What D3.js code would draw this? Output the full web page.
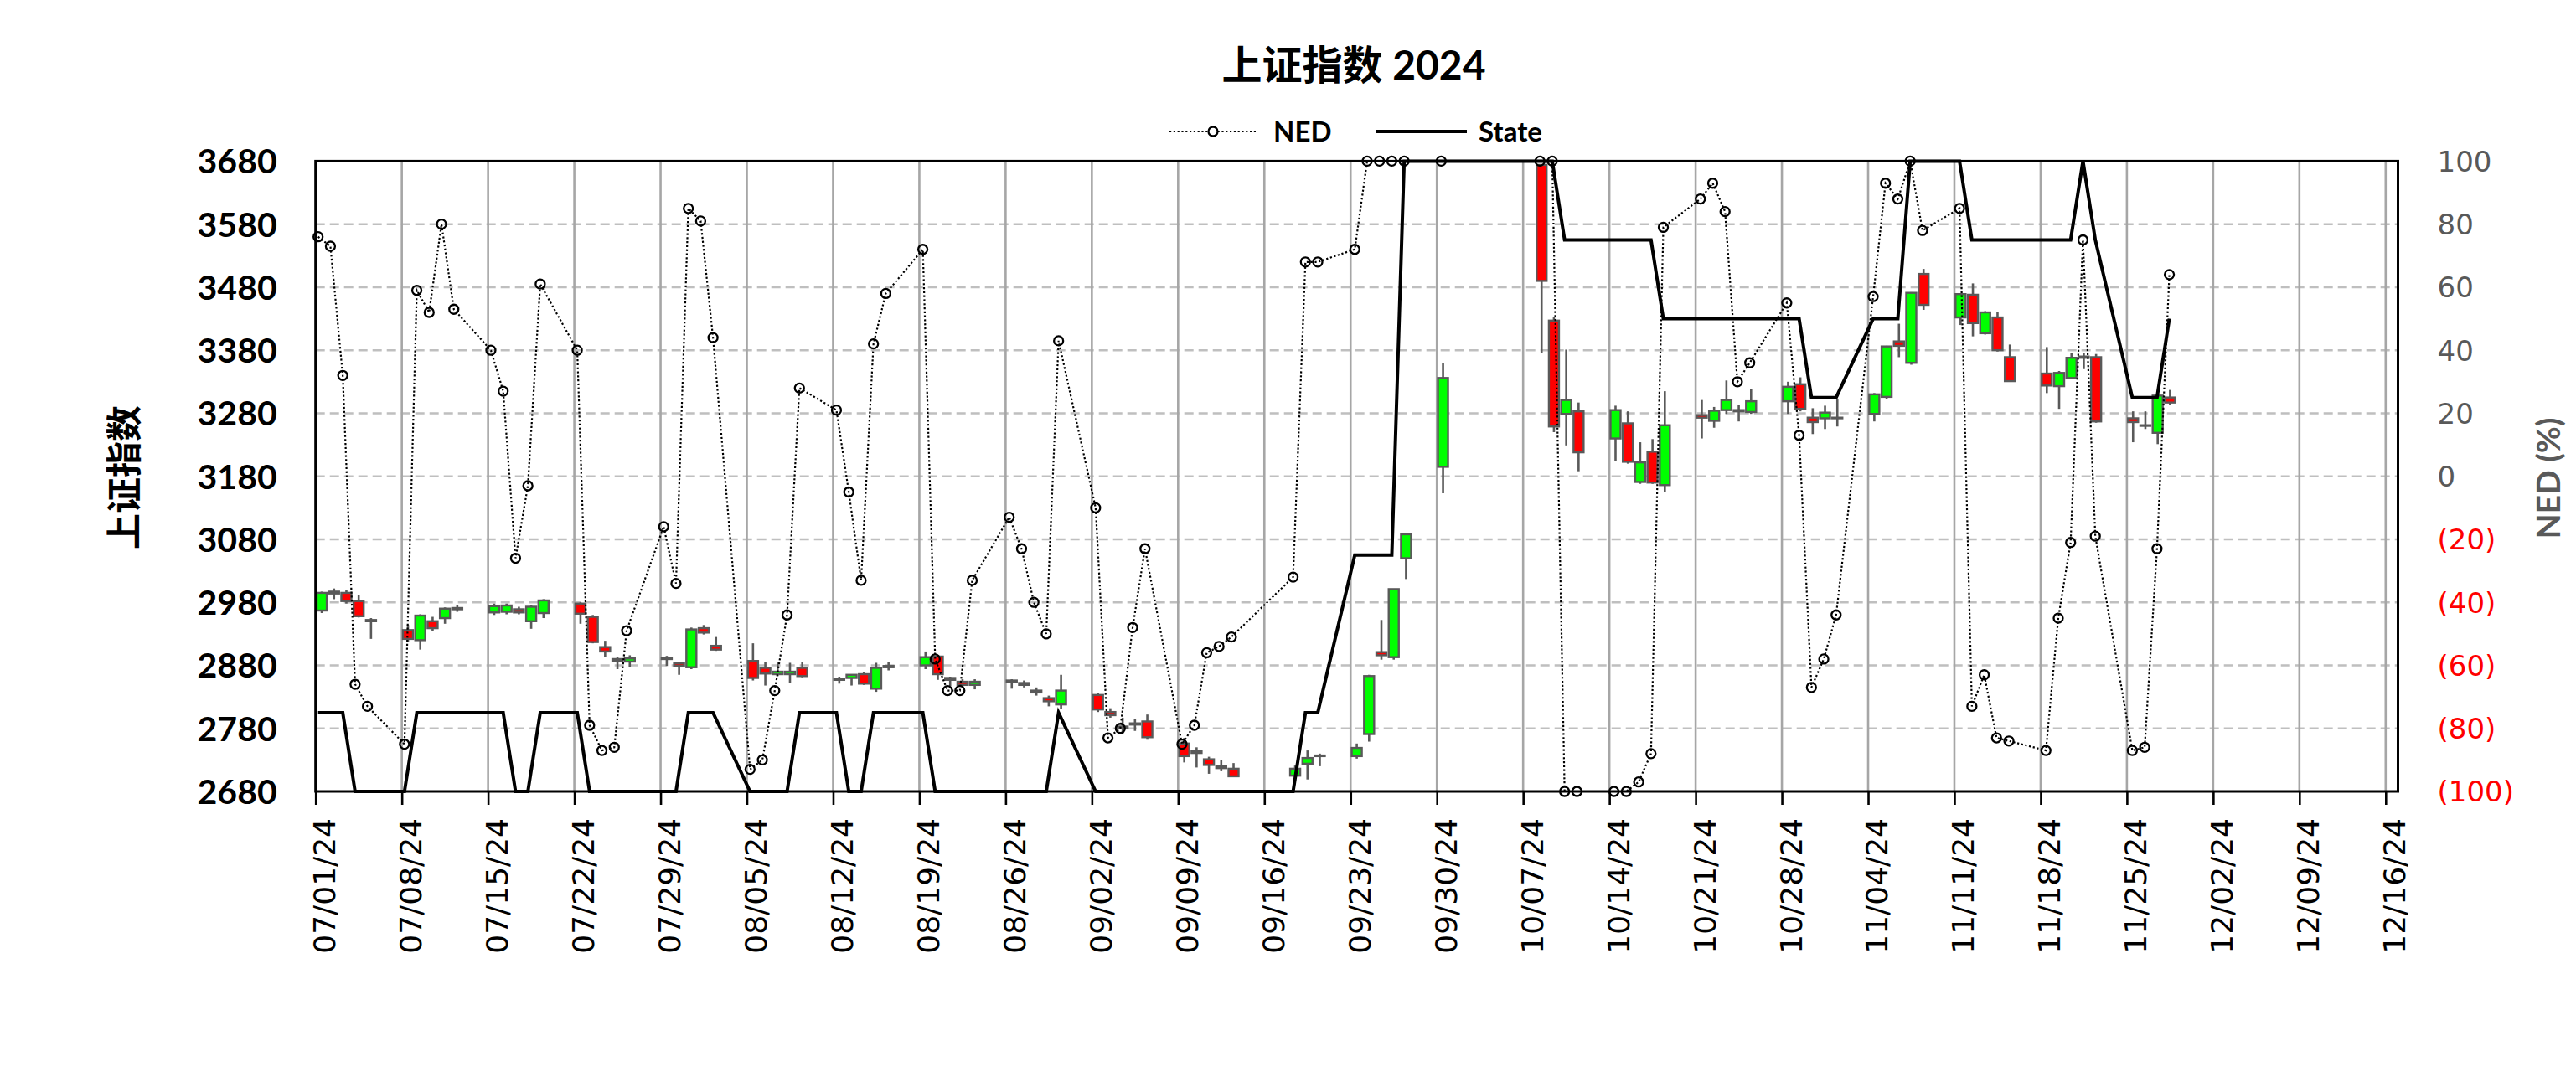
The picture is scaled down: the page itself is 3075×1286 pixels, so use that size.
<!DOCTYPE html>
<html><head><meta charset="utf-8">
<script src="https://cdn.jsdelivr.net/npm/d3@7"></script>
<style>html,body{margin:0;padding:0;background:#fff;}svg{display:block;}</style>
</head><body>
<svg id="chart" width="3075" height="1286"></svg>
<script>
// ---------------- DATA ----------------
const dates = [
"2024-07-01","2024-07-02","2024-07-03","2024-07-04","2024-07-05","2024-07-08","2024-07-09","2024-07-10","2024-07-11","2024-07-12",
"2024-07-15","2024-07-16","2024-07-17","2024-07-18","2024-07-19","2024-07-22","2024-07-23","2024-07-24","2024-07-25","2024-07-26",
"2024-07-29","2024-07-30","2024-07-31","2024-08-01","2024-08-02","2024-08-05","2024-08-06","2024-08-07","2024-08-08","2024-08-09",
"2024-08-12","2024-08-13","2024-08-14","2024-08-15","2024-08-16","2024-08-19","2024-08-20","2024-08-21","2024-08-22","2024-08-23",
"2024-08-26","2024-08-27","2024-08-28","2024-08-29","2024-08-30","2024-09-02","2024-09-03","2024-09-04","2024-09-05","2024-09-06",
"2024-09-09","2024-09-10","2024-09-11","2024-09-12","2024-09-13","2024-09-18","2024-09-19","2024-09-20","2024-09-23","2024-09-24",
"2024-09-25","2024-09-26","2024-09-27","2024-09-30","2024-10-08","2024-10-09","2024-10-10","2024-10-11","2024-10-14","2024-10-15",
"2024-10-16","2024-10-17","2024-10-18","2024-10-21","2024-10-22","2024-10-23","2024-10-24","2024-10-25","2024-10-28","2024-10-29",
"2024-10-30","2024-10-31","2024-11-01","2024-11-04","2024-11-05","2024-11-06","2024-11-07","2024-11-08","2024-11-11","2024-11-12",
"2024-11-13","2024-11-14","2024-11-15","2024-11-18","2024-11-19","2024-11-20","2024-11-21","2024-11-22","2024-11-25","2024-11-26",
"2024-11-27","2024-11-28"];

const openV = [
2967,2994,2995,2982,2952,2936,2920,2950,2955,2969,
2964,2965,2969,2950,2963,2978,2957,2909,2890,2886,
2890,2883,2877,2939,2911,2887,2876,2866,2866,2876,
2857,2860,2866,2843,2877,2880,2894,2860,2854,2849,
2853,2852,2840,2828,2818,2833,2806,2783,2786,2791,
2756,2741,2731,2720,2716,2705,2724,2736,2736,2771,
2901,2893,3050,3195,3674,3427,3279,3283,3240,3264,
3171,3219,3166,3277,3268,3285,3285,3282,3299,3326,
3273,3272,3273,3279,3306,3394,3360,3501,3432,3468,
3407,3432,3369,3343,3323,3336,3368,3369,3272,3261,
3249,3305];
const highV = [
2997,3002,2999,2992,2955,2944,2961,2957,2972,2975,
2978,2978,2973,2975,2985,2980,2960,2919,2893,2896,
2895,2885,2940,2944,2925,2915,2885,2885,2884,2885,
2862,2866,2870,2884,2885,2902,2896,2862,2858,2858,
2858,2856,2845,2832,2865,2836,2812,2797,2795,2802,
2765,2750,2735,2730,2725,2721,2745,2740,2756,2865,
2952,3001,3088,3359,3674,3432,3381,3297,3292,3283,
3234,3239,3315,3301,3290,3332,3293,3318,3330,3337,
3288,3292,3303,3312,3387,3422,3472,3509,3470,3486,
3442,3441,3389,3385,3347,3376,3376,3374,3283,3283,
3310,3317];
const lowV = [
2963,2985,2978,2956,2922,2917,2905,2935,2946,2965,
2960,2961,2961,2938,2955,2946,2915,2893,2874,2877,
2879,2865,2874,2929,2903,2856,2848,2863,2852,2861,
2851,2848,2849,2838,2872,2874,2857,2847,2844,2842,
2843,2845,2832,2815,2811,2806,2797,2771,2776,2762,
2726,2718,2708,2712,2703,2702,2699,2720,2732,2759,
2889,2889,3017,3153,3375,3250,3229,3188,3204,3200,
3168,3168,3155,3240,3257,3279,3267,3279,3279,3283,
3247,3255,3259,3267,3303,3369,3357,3444,3420,3402,
3405,3378,3330,3312,3287,3334,3350,3265,3234,3255,
3231,3293];
const closeV = [
2995,2997,2982,2958,2950,2922,2959,2939,2970,2971,
2974,2975,2964,2973,2983,2962,2917,2902,2887,2891,
2892,2879,2937,2932,2905,2860,2867,2870,2870,2863,
2858,2865,2851,2876,2879,2893,2866,2857,2849,2854,
2856,2849,2837,2823,2840,2810,2801,2781,2788,2766,
2736,2744,2722,2717,2704,2716,2733,2737,2749,2863,
2896,3001,3088,3336,3490,3259,3301,3218,3285,3203,
3202,3170,3261,3273,3284,3301,3283,3299,3322,3287,
3266,3281,3272,3310,3386,3387,3471,3452,3469,3423,
3440,3380,3331,3324,3344,3368,3370,3267,3266,3260,
3308,3297];

const nedV = [
76,73,32,-66,-73,-85,59,52,80,53,
40,27,-26,-3,61,40,-79,-87,-86,-49,
-16,-34,85,81,44,-93,-90,-68,-44,28,
21,-5,-33,42,58,72,-58,-68,-68,-33,
-13,-23,-40,-50,43,-10,-83,-80,-48,-23,
-85,-79,-56,-54,-51,-32,68,68,72,100,
100,100,100,100,100,100,-100,-100,-100,-100,
-97,-88,79,88,93,84,30,36,55,13,
-67,-58,-44,57,93,88,100,78,85,-73,
-63,-83,-84,-87,-45,-21,75,-19,-87,-86,
-23,64];

const stateV = [
-75,-75,-75,-100,-100,-100,-75,-75,-75,-75,
-75,-75,-100,-100,-75,-75,-100,-100,-100,-100,
-100,-100,-75,-75,-75,-100,-100,-100,-100,-75,
-75,-100,-100,-75,-75,-75,-100,-100,-100,-100,
-100,-100,-100,-100,-75,-100,-100,-100,-100,-100,
-100,-100,-100,-100,-100,-100,-75,-75,-25,-25,
-25,-25,100,100,100,100,75,75,75,75,
75,75,50,50,50,50,50,50,50,50,
25,25,25,50,50,50,100,100,100,75,
75,75,75,75,75,75,100,75,25,25,
25,50];

const xTickLabels = ["07/01/24","07/08/24","07/15/24","07/22/24","07/29/24","08/05/24","08/12/24","08/19/24","08/26/24",
"09/02/24","09/09/24","09/16/24","09/23/24","09/30/24","10/07/24","10/14/24","10/21/24","10/28/24","11/04/24",
"11/11/24","11/18/24","11/25/24","12/02/24","12/09/24","12/16/24"];
const leftTicks = [2680,2780,2880,2980,3080,3180,3280,3380,3480,3580,3680];
const rightTicks = [-100,-80,-60,-40,-20,0,20,40,60,80,100];
const titleText = "上证指数 2024";
const leftTitle = "上证指数";
const rightTitle = "NED (%)";
const seriesNames = ["NED","State"];

// ---------------- LAYOUT ----------------
const L = 376.7, R = 2862.5, T = 192.4, B = 945;
const svg = d3.select("#chart");
const parse = d3.timeParse("%Y-%m-%d");
const parseTick = d3.timeParse("%m/%d/%y");
const dts = dates.map(parse);
const tickDates = xTickLabels.map(parseTick);

const x = d3.scaleTime().domain([new Date(2024,6,1), new Date(2024,11,17)]).range([L, R]);
const xLine = d3.scaleTime().domain(x.domain()).range([L + 3, R + 7]);
const halfDay = (x(new Date(2024,6,2)) - x(new Date(2024,6,1))) / 2;
const yL = d3.scaleLinear().domain([2680,3680]).range([B, T]);
const yR = d3.scaleLinear().domain([-100,100]).range([B, T]);

const data = dts.map((d,i)=>({d, o:openV[i], h:highV[i], l:lowV[i], c:closeV[i], ned:nedV[i], st:stateV[i]}));

// gridlines
const g = svg.append("g");
g.selectAll("line.hg").data(leftTicks.filter(v=>v>2680 && v<3680)).join("line")
  .attr("x1", L).attr("x2", R).attr("y1", d=>yL(d)).attr("y2", d=>yL(d))
  .attr("stroke", "#BFBFBF").attr("stroke-width", 2.5).attr("stroke-dasharray", "11,6");
g.selectAll("line.vg").data(tickDates.slice(1)).join("line")
  .attr("x1", d=>x(d)).attr("x2", d=>x(d)).attr("y1", T).attr("y2", B)
  .attr("stroke", "#A6A6A6").attr("stroke-width", 2.6);

// x axis
const xAxis = svg.append("g").attr("transform", `translate(0,${B})`)
  .call(d3.axisBottom(x).tickValues(tickDates).tickSize(16).tickFormat((d,i)=>xTickLabels[i]));
xAxis.select(".domain").remove();
xAxis.selectAll(".tick line").attr("stroke","#000").attr("stroke-width",2.6);
xAxis.selectAll(".tick text")
  .attr("transform","rotate(-90)").attr("text-anchor","end")
  .attr("x",-32).attr("y",10).attr("dy","0.36em")
  .attr("font-family","'DejaVu Sans', Verdana, sans-serif").attr("font-size",36).attr("fill","#000");

// left axis
const yAxisL = svg.append("g").attr("transform", `translate(${L},0)`)
  .call(d3.axisLeft(yL).tickValues(leftTicks).tickSize(0).tickPadding(46).tickFormat(d3.format("d")));
yAxisL.select(".domain").remove();
yAxisL.selectAll(".tick text").attr("font-family","Lato, sans-serif").attr("font-weight","bold")
  .attr("font-size",41).attr("fill","#000").attr("dy","0.35em");

// right axis
const yAxisR = svg.append("g").attr("transform", `translate(${R},0)`)
  .call(d3.axisRight(yR).tickValues(rightTicks).tickSize(0).tickPadding(47)
    .tickFormat(v => v < 0 ? `(${-v})` : `${v}`));
yAxisR.select(".domain").remove();
yAxisR.selectAll(".tick text").attr("font-family","'DejaVu Sans', Verdana, sans-serif")
  .attr("font-size",34).attr("dy","0.35em")
  .attr("fill", d => d < 0 ? "#FF0000" : "#595959");

// candles
const cg = svg.append("g");
cg.selectAll("line.wick").data(data).join("line")
  .attr("x1", d=>x(d.d)+halfDay).attr("x2", d=>x(d.d)+halfDay)
  .attr("y1", d=>yL(d.h)).attr("y2", d=>yL(d.l))
  .attr("stroke","#595959").attr("stroke-width",2.6);
const bw = 12;
cg.selectAll("rect.body").data(data).join("rect")
  .attr("x", d=>x(d.d)+halfDay-bw/2).attr("width", bw)
  .attr("y", d=>yL(Math.max(d.o,d.c)))
  .attr("height", d=>Math.max(0.6, Math.abs(yL(d.o)-yL(d.c))))
  .attr("fill", d=> d.c >= d.o ? "#00FF00" : "#FF0000")
  .attr("stroke","#595959").attr("stroke-width",2.4);

// State line
const stateLine = d3.line().x(d=>xLine(d.d)).y(d=>yR(d.st));
svg.append("path").attr("d", stateLine(data)).attr("fill","none")
  .attr("stroke","#000").attr("stroke-width",4).attr("stroke-linejoin","miter");

// NED line
const nedLine = d3.line().x(d=>xLine(d.d)).y(d=>yR(d.ned));
svg.append("path").attr("d", nedLine(data)).attr("fill","none")
  .attr("stroke","#000").attr("stroke-width",2.2).attr("stroke-dasharray","2.2,2.6");
svg.append("g").selectAll("circle").data(data).join("circle")
  .attr("cx", d=>xLine(d.d)).attr("cy", d=>yR(d.ned)).attr("r",5.5)
  .attr("fill","none").attr("stroke","#000").attr("stroke-width",2.3);

// plot border
svg.append("rect").attr("x",L).attr("y",T).attr("width",R-L).attr("height",B-T)
  .attr("fill","none").attr("stroke","#000").attr("stroke-width",3);

// title
svg.append("text").attr("x",1616).attr("y",95).attr("text-anchor","middle")
  .attr("font-family","Lato, 'Noto Sans CJK SC', sans-serif").attr("font-weight","bold")
  .attr("font-size",48).attr("fill","#000").text(titleText);

// legend
const leg = svg.append("g");
const ly = 157;
leg.append("line").attr("x1",1396).attr("x2",1500).attr("y1",ly).attr("y2",ly)
  .attr("stroke","#000").attr("stroke-width",2.2).attr("stroke-dasharray","2.2,2.6");
leg.append("circle").attr("cx",1448).attr("cy",ly).attr("r",5.5).attr("fill","#fff")
  .attr("stroke","#000").attr("stroke-width",2.3);
leg.append("text").attr("x",1520).attr("y",ly).attr("dy","0.35em")
  .attr("font-family","Lato, sans-serif").attr("font-weight","bold").attr("font-size",33).text(seriesNames[0]);
leg.append("line").attr("x1",1643).attr("x2",1751).attr("y1",ly).attr("y2",ly)
  .attr("stroke","#000").attr("stroke-width",4);
leg.append("text").attr("x",1765).attr("y",ly).attr("dy","0.35em")
  .attr("font-family","Lato, sans-serif").attr("font-weight","bold").attr("font-size",33).text(seriesNames[1]);

// axis titles
svg.append("text").attr("transform","translate(149,570) rotate(-90)")
  .attr("text-anchor","middle").attr("dy","0.35em")
  .attr("font-family","'Noto Sans CJK SC', sans-serif").attr("font-weight","bold")
  .attr("font-size",43).attr("fill","#000").text(leftTitle);
svg.append("text").attr("transform","translate(3042,571) rotate(-90)")
  .attr("text-anchor","middle").attr("dy","0.35em")
  .attr("font-family","Lato, sans-serif").attr("font-weight","bold")
  .attr("font-size",39).attr("fill","#595959").text(rightTitle);
</script>
</body></html>
